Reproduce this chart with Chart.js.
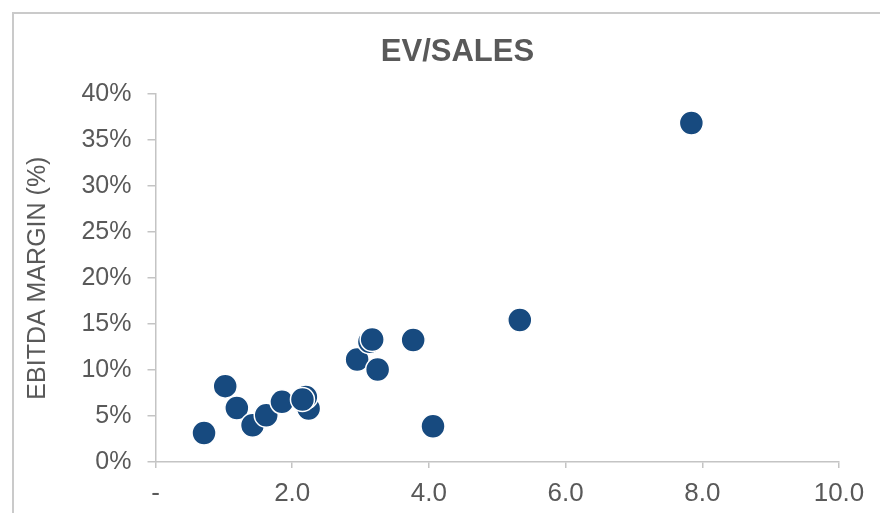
<!DOCTYPE html>
<html>
<head>
<meta charset="utf-8">
<script src="https://cdn.jsdelivr.net/npm/chart.js@4.4.1/dist/chart.umd.min.js"></script>
<style>
    html, body { margin: 0; padding: 0; background: #ffffff; overflow: hidden; }
    #wrap { position: relative; width: 880px; height: 513px; }
    #frame {
        position: absolute; left: 12px; top: 12px; width: 900px; height: 540px;
        border-left: 2px solid #cacaca; border-top: 2px solid #cacaca;
    }
    #chart { position: absolute; left: 0; top: 0; }
</style>
</head>
<body>
<div id="wrap">
    <div id="frame"></div>
    <canvas id="chart" width="880" height="513"></canvas>
</div>
<script>
// EV/SALES vs EBITDA margin (%)
const evSales = [0.71, 1.02, 1.19, 1.42, 1.62, 1.85, 2.24, 2.20, 2.15, 2.95, 3.25, 3.13, 3.17, 3.77, 4.06, 5.33, 7.84];
const ebitdaMargin = [3.16, 8.25, 5.88, 4.00, 5.09, 6.54, 5.81, 7.08, 6.79, 11.15, 10.06, 13.07, 13.33, 13.26, 3.89, 15.44, 36.86];
const xTicks = [0, 2, 4, 6, 8, 10];
const yTicks = [0, 5, 10, 15, 20, 25, 30, 35, 40];

const textColor = '#595959';
const axisColor = '#c4c4c4';
const points = evSales.map((x, i) => ({ x: x, y: ebitdaMargin[i] }));

// geser judul sedikit ke kanan, seperti di gambar asli
const titleShift = {
    id: 'titleShift',
    afterLayout(chart) {
        if (chart.titleBlock) chart.titleBlock.left += 76;
    }
};

new Chart(document.getElementById('chart'), {
    type: 'scatter',
    data: {
        datasets: [{
            data: points,
            backgroundColor: '#174a7f',
            borderColor: '#ffffff',
            borderWidth: 1.5,
            pointRadius: 12,
            pointHoverRadius: 12
        }]
    },
    plugins: [titleShift],
    options: {
        responsive: false,
        animation: false,
        layout: { padding: { left: 0, right: 41, top: 0, bottom: 0 } },
        plugins: {
            legend: { display: false },
            tooltip: { enabled: false },
            title: {
                display: true,
                text: 'EV/SALES',
                color: textColor,
                font: { family: 'Liberation Sans', size: 31, weight: 'bold' },
                padding: { top: 34, bottom: 23 }
            }
        },
        scales: {
            x: {
                type: 'linear',
                min: 0, max: 10,
                afterBuildTicks: (s) => { s.ticks = xTicks.map(v => ({ value: v })); },
                afterFit: (s) => { s.height = 51; },
                border: { color: axisColor, width: 1.5 },
                grid: { drawOnChartArea: false, drawTicks: true, tickLength: 6, color: axisColor, lineWidth: 1.5 },
                ticks: {
                    color: textColor,
                    padding: 10,
                    font: { family: 'Liberation Sans', size: 26 },
                    callback: (v) => v === 0 ? '-' : v.toFixed(1)
                }
            },
            y: {
                type: 'linear',
                min: 0, max: 40,
                afterBuildTicks: (s) => { s.ticks = yTicks.map(v => ({ value: v })); },
                afterFit: (s) => { s.width = 155.5; },
                border: { color: axisColor, width: 1.5 },
                grid: { drawOnChartArea: false, drawTicks: true, tickLength: 8, color: axisColor, lineWidth: 1.5 },
                ticks: {
                    color: textColor,
                    padding: 16,
                    font: { family: 'Liberation Sans', size: 25 },
                    callback: (v) => v + '%'
                },
                title: {
                    display: true,
                    text: 'EBITDA MARGIN (%)',
                    color: textColor,
                    font: { family: 'Liberation Sans', size: 25 },
                    padding: { top: 23, bottom: 0 }
                }
            }
        }
    }
});
</script>
</body>
</html>
